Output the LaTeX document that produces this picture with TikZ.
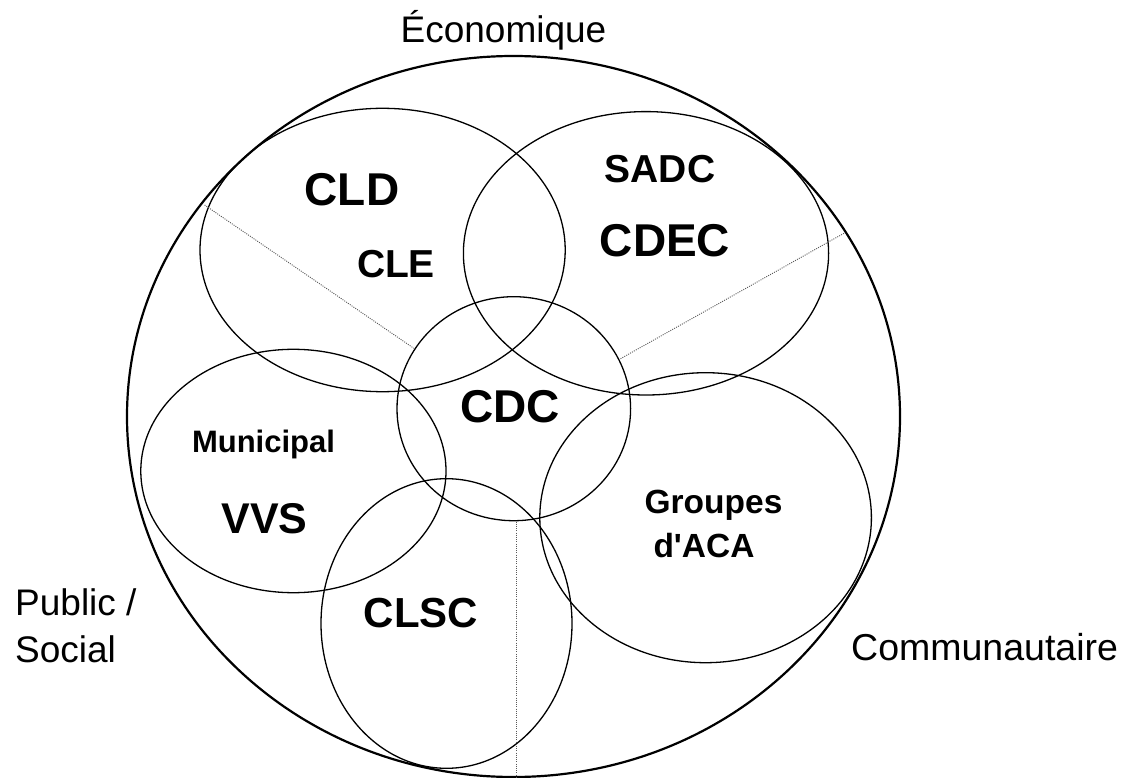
\documentclass[tikz,border=0pt]{standalone}
\usepackage{fontspec}
\setmainfont{Liberation Sans}[Ligatures=TeXOff]
\begin{document}
\begin{tikzpicture}[x=1pt,y=-1pt,
  outer/.style={line width=2.2pt},
  inner/.style={line width=1.3pt},
  divider/.style={line width=0.9pt, black!65, dash pattern=on 1pt off 1.2pt},
  lab/.style={anchor=base, inner sep=0pt, font=\fontsize{#1}{#1}\selectfont\bfseries},
  side/.style={anchor=base, inner sep=0pt, font=\fontsize{37}{44}\selectfont}]
\useasboundingbox (0,0) rectangle (1138,778);
\fill[white] (0,0) rectangle (1138,778);
% outer circle
\draw[outer] (513.5,416.5) ellipse [x radius=386.5, y radius=360.5];
% inner ellipses
\draw[inner] (382.6,250) ellipse [x radius=182.6, y radius=141.7];
\draw[inner] (646,253.3) ellipse [x radius=182.6, y radius=141.7];
\draw[inner] (513.8,408.7) ellipse [x radius=116.8, y radius=112];
\draw[inner] (293.4,471) ellipse [x radius=152.6, y radius=121.7];
\draw[inner] (446.5,623.5) ellipse [x radius=125.5, y radius=144.8];
\draw[inner] (705.6,517.7) ellipse [x radius=165.8, y radius=145];
% dividers
\coordinate (d1a) at (204.6,205);
\coordinate (d1b) at (413.8,348.3);
\coordinate (d2a) at (843.9,233.3);
\coordinate (d2b) at (619.4,359.3);
\coordinate (d3a) at (516.8,521.5);
\coordinate (d3b) at (516.8,777.5);
\draw[divider] (d1a) -- (d1b);
\draw[divider] (d2a) -- (d2b);
\draw[divider] (d3a) -- (d3b);
% side labels
\node[side] (eco) at (503.5,43) {Économique};
\node[side, anchor=base west] (pub1) at (15,615) {Public /};
\node[side, anchor=base west] (pub2) at (15,662) {Social};
\node[side, anchor=base west, font=\fontsize{37.5}{44}\selectfont] (com) at (851,660) {Communautaire};
% inner labels
\node[lab=46] (cld) at (352,206) {CLD};
\node[lab=39] (cle) at (396,277) {CLE};
\node[lab=39] (sadc) at (660,183) {SADC};
\node[lab=46] (cdec) at (665,257) {CDEC};
\node[lab=46] (cdc) at (510,422) {CDC};
\node[lab=31] (mun) at (263.5,452) {Municipal};
\node[lab=43] (vvs) at (264.5,533) {VVS};
\node[lab=33.5] (grp1) at (713.5,513) {Groupes};
\node[lab=33.5] (grp2) at (704,557) {d'ACA};
\node[lab=42] (clsc) at (421,627) {CLSC};
\end{tikzpicture}
\end{document}
